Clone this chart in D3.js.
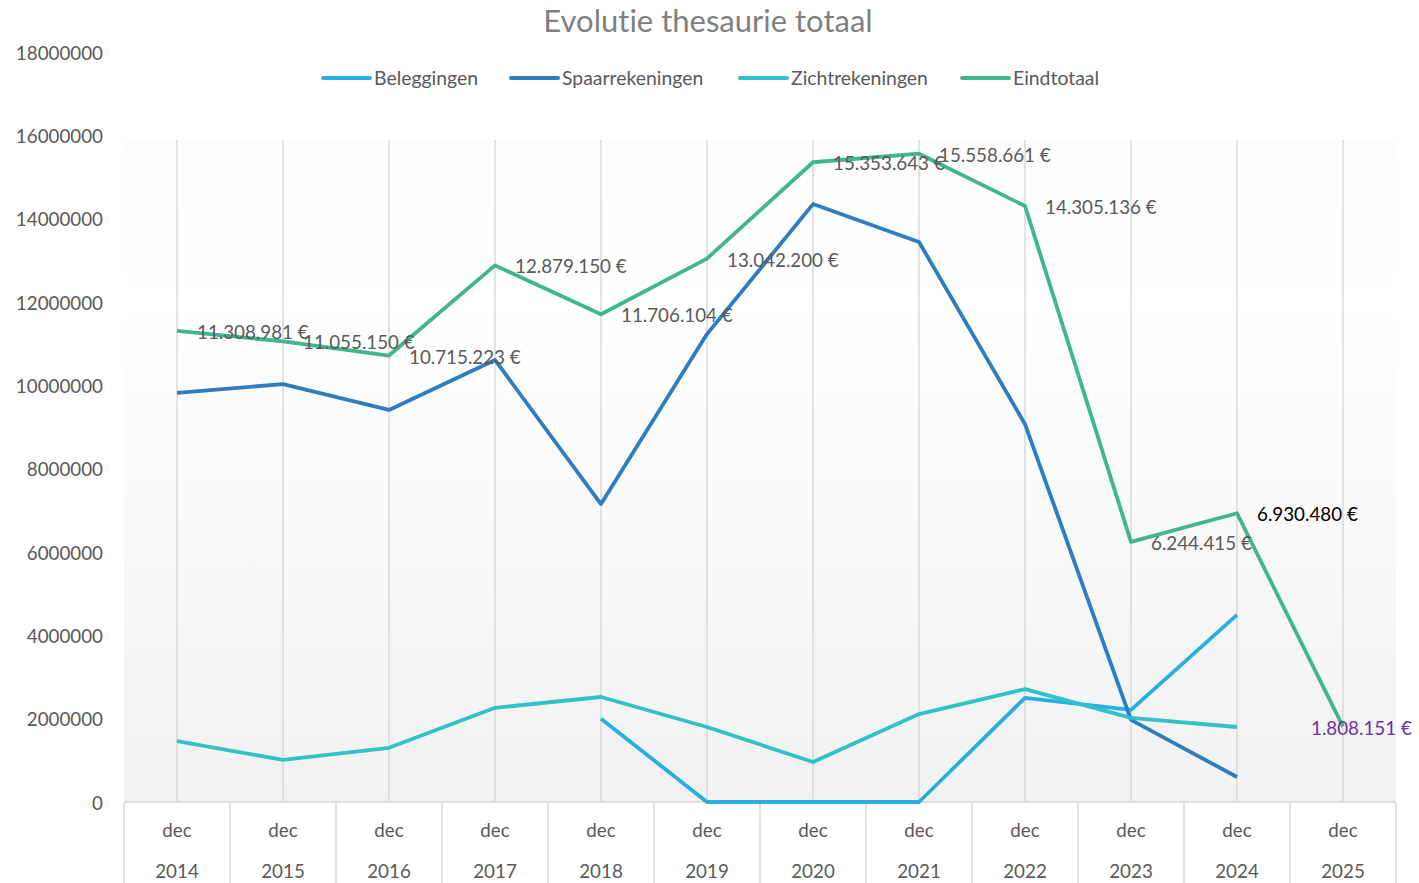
<!DOCTYPE html>
<html>
<head>
<meta charset="utf-8">
<script src="https://cdn.jsdelivr.net/npm/d3@7"></script>
<style>
  html, body { margin: 0; padding: 0; background: #ffffff; }
  svg { display: block; }
  text { font-family: Lato, "Open Sans", sans-serif; font-variant-ligatures: none; }
</style>
</head>
<body>
<svg id="chart" width="1419" height="883"></svg>
<script>
// ---- data ----
const years = ["2014","2015","2016","2017","2018","2019","2020","2021","2022","2023","2024","2025"];
const monthLabel = "dec";
const beleggingen     = [null, null, null, null, 2000000, 0, 0, 0, 2500000, 2210000, 4490000, null];
const spaarrekeningen = [9820000, 10030000, 9410000, 10610000, 7150000, 11230000, 14350000, 13440000, 9070000, 1970000, 600000, null];
const zichtrekeningen = [1460000, 1010000, 1300000, 2260000, 2520000, 1800000, 960000, 2110000, 2710000, 2020000, 1800000, null];
const eindtotaal      = [11308981, 11055150, 10715223, 12879150, 11706104, 13042200, 15353643, 15558661, 14305136, 6244415, 6930480, 1808151];
const eindtotaalLabels = ["11.308.981 €","11.055.150 €","10.715.223 €","12.879.150 €","11.706.104 €","13.042.200 €","15.353.643 €","15.558.661 €","14.305.136 €","6.244.415 €","6.930.480 €","1.808.151 €"];
const yTicks = [0, 2000000, 4000000, 6000000, 8000000, 10000000, 12000000, 14000000, 16000000, 18000000];
const seriesNames = ["Beleggingen", "Spaarrekeningen", "Zichtrekeningen", "Eindtotaal"];
const title = "Evolutie thesaurie totaal";

// ---- layout / style ----
const W = 1419, H = 883;
const plotLeft = 124, plotRight = 1396, plotTop = 140, yZero = 802, yTopVal = 52;
const colors = ["#27aee3", "#2e7cc1", "#2fc2c8", "#3fb68d"];
const textColor = "#595959";
const gridColor = "#d9d9d9";

const svg = d3.select("#chart");

const x = d3.scaleBand().domain(years).range([plotLeft, plotRight]).padding(0);
const cx = d => x(d) + x.bandwidth() / 2;
const y = d3.scaleLinear().domain([0, 18000000]).range([yZero, yTopVal]);

// plot area gradient
const defs = svg.append("defs");
const grad = defs.append("linearGradient").attr("id", "bg").attr("x1", 0).attr("y1", 0).attr("x2", 0).attr("y2", 1);
grad.append("stop").attr("offset", "0%").attr("stop-color", "#fdfdfd");
grad.append("stop").attr("offset", "25%").attr("stop-color", "#ffffff");
grad.append("stop").attr("offset", "100%").attr("stop-color", "#f1f1f1");

svg.append("rect")
  .attr("x", plotLeft).attr("y", plotTop)
  .attr("width", plotRight - plotLeft).attr("height", yZero - plotTop)
  .attr("fill", "url(#bg)");

// vertical gridlines at category centers
svg.append("g").selectAll("line").data(years).join("line")
  .attr("x1", d => cx(d)).attr("x2", d => cx(d))
  .attr("y1", plotTop).attr("y2", yZero)
  .attr("stroke", gridColor).attr("stroke-width", 1.5);

// x-axis table
const xt = svg.append("g");
xt.append("line").attr("x1", plotLeft).attr("x2", plotRight).attr("y1", yZero).attr("y2", yZero)
  .attr("stroke", gridColor).attr("stroke-width", 1.5);
const bounds = years.map(d => x(d)).concat([plotRight]);
xt.selectAll("line.sep").data(bounds).join("line").attr("class", "sep")
  .attr("x1", d => d).attr("x2", d => d).attr("y1", yZero).attr("y2", H)
  .attr("stroke", gridColor).attr("stroke-width", 1.5);
xt.selectAll("text.m").data(years).join("text").attr("class", "m")
  .attr("x", d => cx(d)).attr("y", 837).attr("text-anchor", "middle")
  .attr("font-size", 18.8).attr("fill", textColor).text(monthLabel);
xt.selectAll("text.yr").data(years).join("text").attr("class", "yr")
  .attr("x", d => cx(d)).attr("y", 878).attr("text-anchor", "middle")
  .attr("font-size", 18.8).attr("fill", textColor).text(d => d);

// y axis
const yAxis = d3.axisLeft(y).tickValues(yTicks).tickFormat(d3.format("d")).tickSize(0).tickPadding(21);
const ya = svg.append("g").attr("transform", `translate(${plotLeft},1)`).call(yAxis);
ya.select(".domain").remove();
ya.selectAll("text").attr("font-size", 18.8).attr("fill", textColor).attr("font-family", "Lato, 'Open Sans', sans-serif");

// lines
const allSeries = [beleggingen, spaarrekeningen, zichtrekeningen, eindtotaal];
const line = d3.line()
  .defined(d => d.v !== null)
  .x(d => cx(d.k)).y(d => y(d.v));
allSeries.forEach((s, i) => {
  const pts = years.map((k, j) => ({ k, v: s[j] }));
  svg.append("path").datum(pts)
    .attr("d", line)
    .attr("fill", "none")
    .attr("stroke", colors[i])
    .attr("stroke-width", 3.8)
    .attr("stroke-linejoin", "round")
    .attr("stroke-linecap", "butt");
});

// data labels on Eindtotaal
svg.append("g").selectAll("text").data(years).join("text")
  .attr("x", (d, i) => i === years.length - 1 ? cx(d) - 32 : cx(d) + 20)
  .attr("y", (d, i) => y(eindtotaal[i]) + 8)
  .attr("font-size", 18.8)
  .attr("fill", (d, i) => i === years.length - 1 ? "#7030a0" : (i === years.length - 2 ? "#000000" : textColor))
  .text((d, i) => eindtotaalLabels[i]);

// title
svg.append("text").attr("x", 708).attr("y", 32).attr("text-anchor", "middle")
  .attr("font-size", 31).attr("fill", "#7f7f7f").text(title);

// legend
const legX = [323, 511, 740, 962];
const lg = svg.append("g");
seriesNames.forEach((n, i) => {
  lg.append("line").attr("x1", legX[i]).attr("x2", legX[i] + 47).attr("y1", 78).attr("y2", 78)
    .attr("stroke", colors[i]).attr("stroke-width", 4).attr("stroke-linecap", "round");
  lg.append("text").attr("x", legX[i] + 51).attr("y", 85).attr("font-size", 19.4)
    .attr("fill", textColor).text(n);
});
</script>
</body>
</html>
